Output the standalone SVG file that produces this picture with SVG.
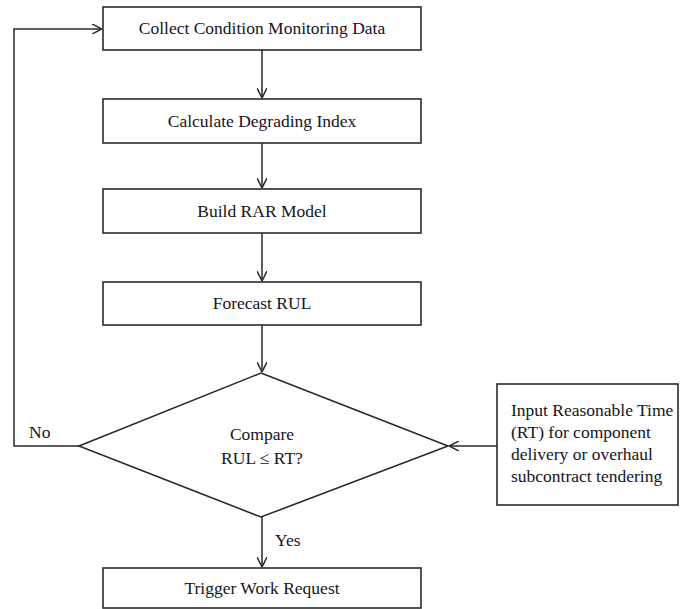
<svg xmlns="http://www.w3.org/2000/svg" width="680" height="609" viewBox="0 0 680 609">
<style>
.box{fill:#fff;stroke:#2a2a2a;stroke-width:1.6}
.t{font-family:"Liberation Serif","Times New Roman",serif;font-size:17.5px;fill:#14141e}
.c{text-anchor:middle}
.ln{fill:none;stroke:#2a2a2a;stroke-width:1.5}
</style>
<defs>
<marker id="ah" viewBox="0 0 10 10" refX="10" refY="5" markerWidth="10" markerHeight="10" markerUnits="userSpaceOnUse" orient="auto">
<path d="M0,0 L10,5 L0,10" fill="none" stroke="#2a2a2a" stroke-width="1.5"/>
</marker>
</defs>
<rect width="680" height="609" fill="#fff"/>
<g id="connectors">
<line class="ln" x1="262" y1="50" x2="262" y2="98" marker-end="url(#ah)"/>
<line class="ln" x1="262" y1="143" x2="262" y2="188" marker-end="url(#ah)"/>
<line class="ln" x1="262" y1="233" x2="262" y2="281" marker-end="url(#ah)"/>
<line class="ln" x1="262" y1="325" x2="262" y2="372" marker-end="url(#ah)"/>
<line class="ln" x1="262" y1="517" x2="262" y2="567" marker-end="url(#ah)"/>
<polyline class="ln" points="79,446 14,446 14,29 102,29" marker-end="url(#ah)"/>
<line class="ln" x1="497" y1="446" x2="449" y2="446" marker-end="url(#ah)"/>
<text class="t" x="29" y="438">No</text>
<text class="t" x="275" y="546">Yes</text>
</g>
<g id="collect">
<rect class="box" x="103" y="7" width="318" height="43"/>
<text class="t c" x="262" y="34">Collect Condition Monitoring Data</text>
</g>
<g id="calculate">
<rect class="box" x="103" y="99" width="318" height="44"/>
<text class="t c" x="262" y="127">Calculate Degrading Index</text>
</g>
<g id="build">
<rect class="box" x="103" y="189" width="318" height="44"/>
<text class="t c" x="262" y="217">Build RAR Model</text>
</g>
<g id="forecast">
<rect class="box" x="103" y="282" width="318" height="43"/>
<text class="t c" x="262" y="309">Forecast RUL</text>
</g>
<g id="compare">
<polygon class="box" points="261,373 448,446 261,517 79,446"/>
<text class="t c" x="262" y="440">Compare</text>
<text class="t c" x="262" y="464">RUL ≤ RT?</text>
</g>
<g id="input-rt">
<rect class="box" x="497" y="384" width="181" height="121"/>
<text class="t" x="511" y="416">Input Reasonable Time</text>
<text class="t" x="511" y="438">(RT) for component</text>
<text class="t" x="511" y="460">delivery or overhaul</text>
<text class="t" x="511" y="482">subcontract tendering</text>
</g>
<g id="trigger">
<rect class="box" x="103" y="568" width="318" height="40"/>
<text class="t c" x="262" y="594">Trigger Work Request</text>
</g>
</svg>
